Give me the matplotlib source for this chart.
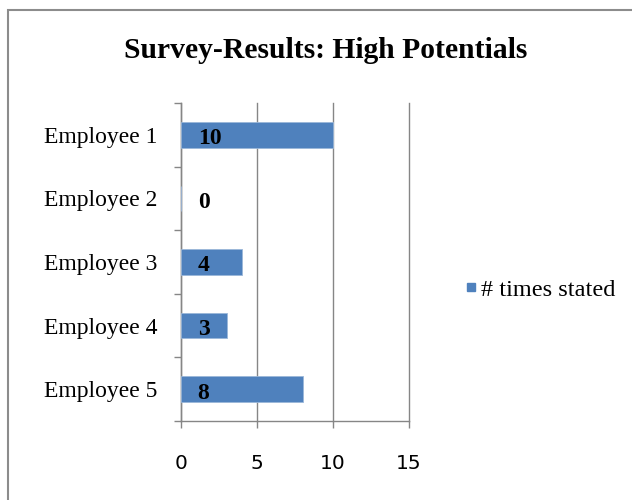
import matplotlib; matplotlib.use("Agg")
import matplotlib.pyplot as plt
import numpy as np
from matplotlib.patches import Rectangle
from matplotlib.lines import Line2D

employees = ["Employee 1", "Employee 2", "Employee 3", "Employee 4", "Employee 5"]
times_stated = [10, 0, 4, 3, 8]
x_ticks = [0, 5, 10, 15]

BLUE = "#4F81BD"; GRID = "#868686"
plt.rcParams["font.family"] = ["Liberation Serif", "DejaVu Serif"]

fig = plt.figure(figsize=(6.32, 5.0), dpi=100)
# chart frame (only left and top edges are inside the canvas)
fig.patches.append(Rectangle((8/632, -0.1), 1.2, 1 - 10/500 + 0.1, transform=fig.transFigure,
                             fill=False, edgecolor="#8c8c8c", linewidth=1.5))
ax = fig.add_axes([181/632, 1 - 421/500, 228/632, 318/500])

y = np.arange(len(employees))
ax.barh(y, times_stated, height=0.4, color=BLUE, edgecolor="#9bb7d9", linewidth=0.6, zorder=3)
for yi, v in zip(y, times_stated):
    ax.annotate(str(v), (0, yi), xytext=(12, -1), textcoords="offset points",
                ha="left", va="center_baseline", fontsize=17, fontweight="bold", zorder=4)

ax.set_xlim(0, 15); ax.set_ylim(len(employees) - 0.5, -0.5)
ax.set_xticks(x_ticks)
ax.set_xticklabels([str(t) for t in x_ticks], fontfamily="DejaVu Sans", fontsize=14.5)
ax.set_yticks(y); ax.set_yticklabels(employees)
ax.set_yticks(np.arange(len(employees) + 1) - 0.5, minor=True)
ax.tick_params(axis="y", which="major", length=0, pad=17, labelsize=17)
ax.tick_params(axis="y", which="minor", length=5, width=1, color=GRID, direction="out")
ax.tick_params(axis="x", length=5, width=1, color=GRID, direction="out", pad=19)
ax.xaxis.grid(True, color=GRID, linewidth=1, zorder=0)
for gl in ax.get_xgridlines():
    gl.set_clip_on(False)
for s in ["top", "right"]:
    ax.spines[s].set_visible(False)
for s in ["left", "bottom"]:
    ax.spines[s].set_color(GRID); ax.spines[s].set_linewidth(1)

fig.text(326/632, 1 - 50/500, "Survey-Results: High Potentials", ha="center", va="center",
         fontsize=21.3, fontweight="bold")
handle = Line2D([], [], linestyle="none", marker="s", markersize=6,
                markerfacecolor=BLUE, markeredgecolor=BLUE)
ax.legend([handle], ["# times stated"], loc="center left",
          bbox_to_anchor=(443/632, 1 - 290/500), bbox_transform=fig.transFigure,
          frameon=False, fontsize=17.5, handlelength=0.5, handletextpad=0.15)

fig.savefig("out.png", dpi=100)
